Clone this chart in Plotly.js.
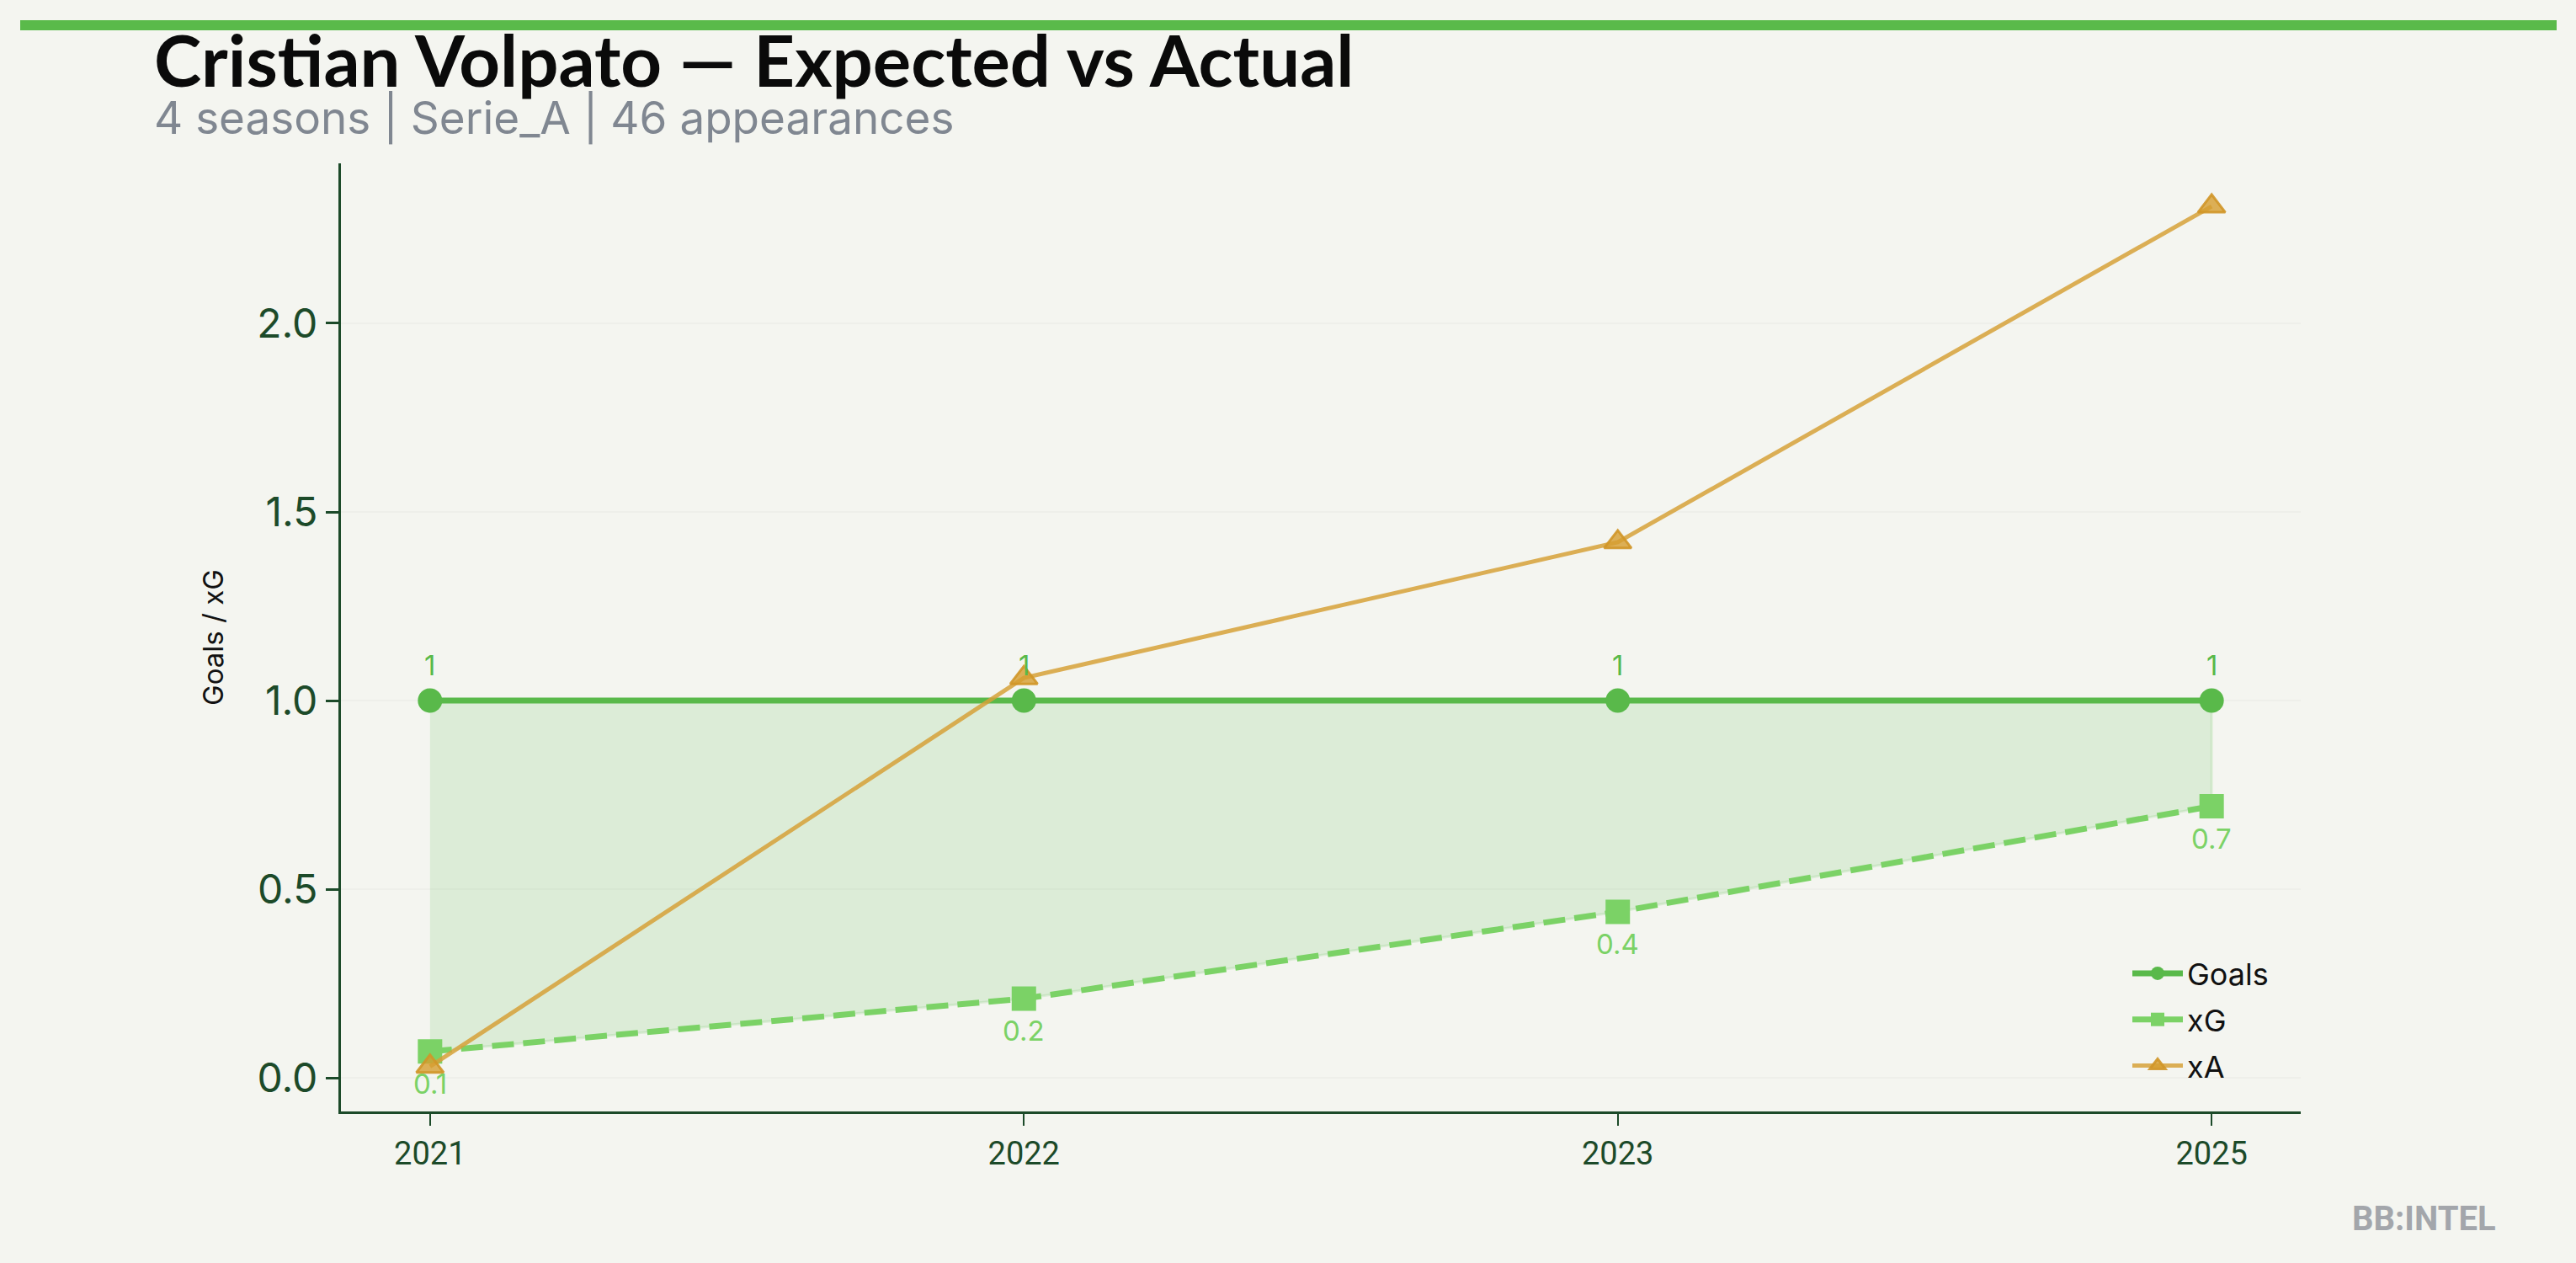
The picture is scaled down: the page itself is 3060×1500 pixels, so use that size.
<!DOCTYPE html>
<html>
<head>
<meta charset="utf-8">
<script src="https://cdn.plot.ly/plotly-3.0.1.min.js"></script>
<style>
  html, body { margin: 0; padding: 0; background: #f4f5f0; }
  #chart { width: 3060px; height: 1500px; }
</style>
</head>
<body>
<div id="chart"></div>
<script>
// ---- data ----
const seasons = ["2021", "2022", "2023", "2025"];
const goals = [1, 1, 1, 1];
const xg = [0.07, 0.21, 0.44, 0.72];
const xa = [0.03, 1.06, 1.42, 2.31];
const yTicks = [0, 0.5, 1.0, 1.5, 2.0];

const titleText = "Cristian Volpato — Expected vs Actual";
const subtitleText = "4 seasons | Serie_A | 46 appearances";
const yTitle = "Goals / xG";
const watermark = "BB:INTEL";

// ---- layout helpers ----
const W = 3060, H = 1500;
const L = 405, R = 2733, T = 194, B = 1320;
const px = x => (x - L) / (R - L);
const py = y => (B - y) / (B - T);

const cGoals = "#59b94a";
const cXg = "#7bd266";
const cXa = "rgba(214,161,56,0.85)";
const dark = "#1c4a29";

const fillTrace = {
  x: seasons.concat(seasons.slice().reverse()),
  y: goals.concat(xg.slice().reverse()),
  type: "scatter", mode: "lines",
  fill: "toself",
  fillcolor: "rgba(90,185,74,0.15)",
  line: { color: "rgba(90,185,74,0.15)", width: 3 },
  showlegend: false, hoverinfo: "skip"
};

const goalsTrace = {
  x: seasons, y: goals, name: "Goals", legendgroup: "g1",
  type: "scatter", mode: "lines+markers",
  line: { color: cGoals, width: 7 },
  marker: { symbol: "circle", size: 29, color: cGoals }
};

const xgTrace = {
  x: seasons, y: xg, name: "xG", legendgroup: "g2",
  type: "scatter", mode: "lines+markers",
  line: { color: cXg, width: 7, dash: "26px,11px" },
  marker: { symbol: "square", size: 29, color: cXg }
};

const xaTrace = {
  x: seasons, y: xa, name: "xA", legendgroup: "g3",
  type: "scatter", mode: "lines+markers",
  line: { color: cXa, width: 5 },
  marker: { symbol: "triangle-up", size: 28, color: "rgba(214,158,48,0.8)",
            line: { color: "rgba(208,150,40,0.9)", width: 3 } }
};

const annotations = [];
seasons.forEach((s, i) => {
  annotations.push({
    x: i, y: goals[i], xref: "x", yref: "y",
    text: String(Math.round(goals[i] * 10) / 10),
    showarrow: false, yshift: 42,
    font: { family: "Inter", size: 33, color: cGoals }
  });
  annotations.push({
    x: i, y: xg[i], xref: "x", yref: "y",
    text: xg[i].toFixed(1),
    showarrow: false, yshift: -38,
    font: { family: "Inter", size: 33, color: cXg }
  });
});

annotations.push({
  xref: "paper", yref: "paper", x: px(181), y: py(70), xanchor: "left", yanchor: "middle",
  text: "<b>" + titleText + "</b>", showarrow: false,
  font: { family: "Lato", size: 85, color: "#0a0a0a", weight: 900 }
});
annotations.push({
  xref: "paper", yref: "paper", x: px(181), y: py(140), xanchor: "left", yanchor: "middle",
  text: subtitleText, showarrow: false,
  font: { family: "Inter", size: 53, color: "#808791" }
});
annotations.push({
  xref: "paper", yref: "paper", x: px(2967), y: py(1447), xanchor: "right", yanchor: "middle",
  text: "<b>" + watermark + "</b>", showarrow: false,
  font: { family: "Roboto", size: 40, color: "#a3a6ab" }
});

const layout = {
  width: W, height: H,
  paper_bgcolor: "#f4f5f0", plot_bgcolor: "#f4f5f0",
  margin: { l: L, r: W - R, t: T, b: H - B, pad: 0 },
  showlegend: true,
  legend: {
    x: px(2528), y: py(1126), xanchor: "left", yanchor: "top",
    bgcolor: "rgba(0,0,0,0)", borderwidth: 0,
    font: { family: "Inter", size: 36, color: "#111111" },
    itemwidth: 60, traceorder: "grouped", tracegroupgap: 5
  },
  xaxis: {
    type: "category", range: [-0.15, 3.15],
    showline: true, linecolor: dark, linewidth: 3, mirror: false,
    ticks: "outside", ticklen: 14, tickwidth: 2, tickcolor: dark,
    showgrid: false, zeroline: false,
    tickfont: { family: "Roboto", size: 38, color: dark }
  },
  yaxis: {
    range: [-0.089, 2.424],
    tickvals: yTicks, ticktext: yTicks.map(v => v.toFixed(1)),
    showline: true, linecolor: dark, linewidth: 3, mirror: false,
    ticks: "outside", ticklen: 15, tickwidth: 3, tickcolor: dark,
    showgrid: true, gridcolor: "rgba(0,0,0,0.025)", gridwidth: 2,
    zeroline: false,
    tickfont: { family: "Inter", size: 48, color: dark },
    title: { text: yTitle, standoff: 30, font: { family: "Inter", size: 33, color: "#111111" } }
  },
  shapes: [{
    type: "rect", xref: "paper", yref: "paper",
    x0: px(24), x1: px(3037), y0: py(36), y1: py(24),
    fillcolor: "#5aba4a", line: { width: 0 }
  }],
  annotations: annotations
};

Plotly.newPlot("chart", [fillTrace, goalsTrace, xgTrace, xaTrace], layout, { displayModeBar: false, staticPlot: true });
</script>
</body>
</html>
